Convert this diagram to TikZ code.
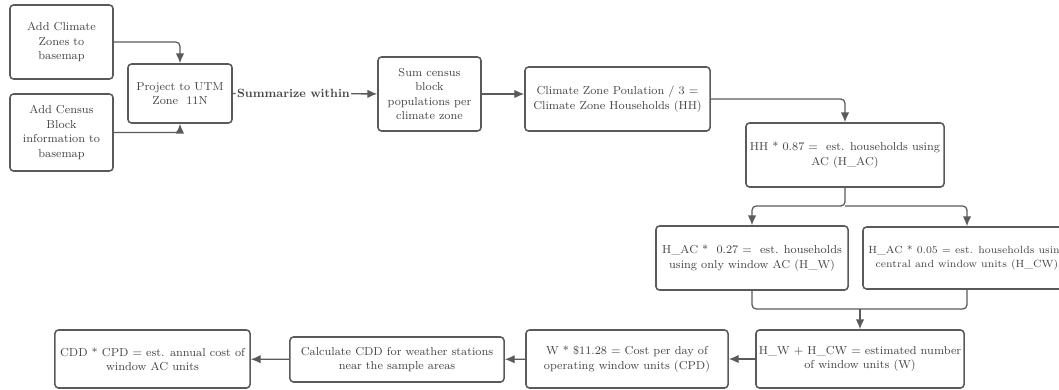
\documentclass[tikz,border=0pt]{standalone}
\usepackage{fontspec}
\usetikzlibrary{arrows.meta}
\definecolor{boxline}{HTML}{5A5A5A}
\definecolor{boxtext}{HTML}{454545}
\tikzset{
  stepbox/.style={draw=boxline, line width=1.1pt, rounded corners=2.5pt, fill=white, align=center, font=\fontsize{8.2}{10.2}\selectfont, text=boxtext, inner sep=2pt},
  conn/.style={draw=boxline, line width=0.9pt, rounded corners=3pt, -{Latex[length=7pt,width=6pt]}},
  joinline/.style={draw=boxline, line width=0.9pt, rounded corners=3pt},
  edgelabel/.style={fill=white, font=\bfseries\fontsize{8.5}{10}\selectfont, text=boxtext, inner sep=1pt},
}

\begin{document}
\begin{tikzpicture}[x=0.025cm, y=-0.025cm]
\useasboundingbox (0,0) rectangle (1059,389);
\node[stepbox, minimum width=2.575cm, minimum height=1.85cm] (climate) at (61.5,42) {Add Climate\\Zones to\\basemap};
\node[stepbox, minimum width=2.575cm, minimum height=1.925cm] (census) at (61.5,132.5) {Add Census\\Block\\information to\\basemap};
\node[stepbox, minimum width=2.6cm, minimum height=1.475cm] (utm) at (180,93.5) {Project to UTM\\Zone~~11N};
\node[stepbox, minimum width=2.575cm, minimum height=1.85cm] (sumpop) at (429.5,94) {Sum census\\block\\populations per\\climate zone};
\node[stepbox, minimum width=4.625cm, minimum height=1.6cm] (hh) at (617.5,99) {Climate Zone Poulation / 3 =\\Climate Zone Households (HH)};
\node[stepbox, minimum width=4.95cm, minimum height=1.6cm] (hac) at (845,155) {HH * 0.87 =~ est. households using\\AC (H\_AC)};
\node[stepbox, minimum width=4.8cm, minimum height=1.6cm] (hw) at (752,258) {H\_AC *~ 0.27 =~ est. households\\using only window AC (H\_W)};
\node[stepbox, minimum width=5.2cm, minimum height=1.55cm, font=\fontsize{7.4}{10.2}\selectfont] (hcw) at (967,258) {H\_AC * 0.05 = est. households using\\central and window units (H\_CW)};
\node[stepbox, minimum width=4.95cm, minimum height=1.45cm] (units) at (860,359) {H\_W + H\_CW = estimated number\\of window units (W)};
\node[stepbox, minimum width=5.05cm, minimum height=1.45cm] (cpd) at (627,359) {W * \$11.28 = Cost per day of\\operating window units (CPD)};
\node[stepbox, minimum width=5.35cm, minimum height=1.125cm] (cdd) at (397,359.5) {Calculate CDD for weather stations\\near the sample areas};
\node[stepbox, minimum width=4.875cm, minimum height=1.45cm] (cost) at (152.5,359) {CDD * CPD = est. annual cost of\\window AC units};
% inputs into the projection
\draw[conn] (climate.east) -| (utm.north);
\draw[conn] (census.east) -| (utm.south);
\draw[conn] (utm) -- node[edgelabel, pos=0.42] {Summarize within} (sumpop);
\draw[conn] (sumpop.east) -- (sumpop.east -| hh.west);
\draw[conn] (hh.east) -| (hac.north);
% split into the two AC groups
\coordinate (acsplit) at (845,206);
\draw[conn] (hac.south) -- (acsplit) -| (hw.north);
\draw[conn] (acsplit) -| (hcw.north);
\coordinate (wjoin) at (860,309);
\draw[joinline] (hw.south) |- (wjoin);
\draw[joinline] (hcw.south) |- (wjoin);
\draw[conn] (wjoin) -- (units.north);
% bottom row runs right to left
\draw[conn] (units) -- (cpd);
\draw[conn] (cpd) -- (cdd);
\draw[conn] (cdd) -- (cost);
\end{tikzpicture}
\end{document}
